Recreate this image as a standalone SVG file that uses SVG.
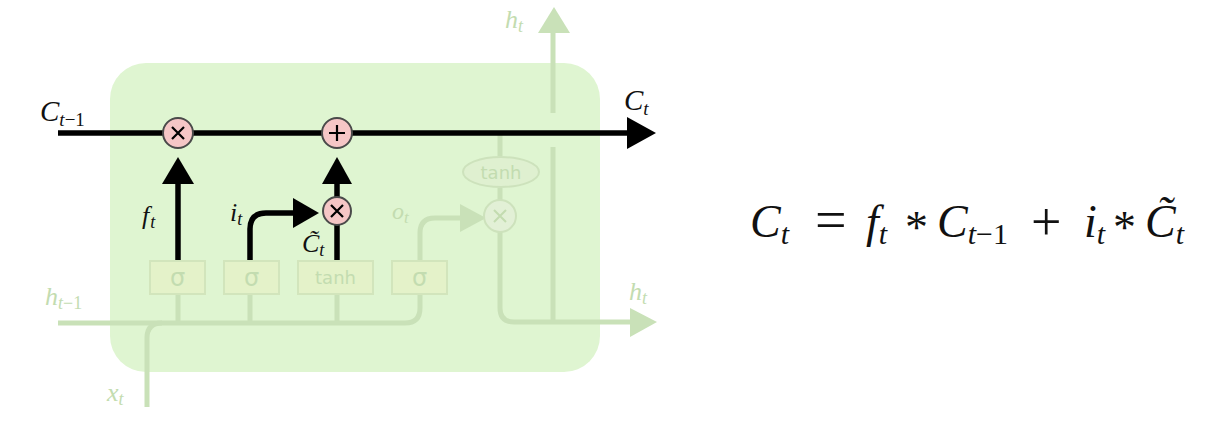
<svg xmlns="http://www.w3.org/2000/svg" width="1217" height="426" viewBox="0 0 1217 426">
<style>
.fl{fill:none;stroke:#c9e1b8;stroke-width:5;stroke-linecap:butt}
.fa{fill:#c9e1b8}
.fb{fill:#e4f2c9;stroke:#d2e5bc;stroke-width:2}
.ft{fill:#c3dcb0;font-family:"DejaVu Sans",sans-serif}
.fm{fill:#c3dcb0;font-family:"Liberation Serif",serif;font-style:italic}
.bl{fill:none;stroke:#000;stroke-width:5.5}
.ba{fill:#000}
.op{fill:#f5c6c6;stroke:#4a4a4a;stroke-width:2}
.ox{stroke:#000;stroke-width:2.2;fill:none}
.m{fill:#111;font-family:"Liberation Serif",serif;font-style:italic}
.n{fill:#111;font-family:"Liberation Serif",serif;font-style:normal}
</style>
<rect width="1217" height="426" fill="#fff"/>
<g id="cell"><rect x="110" y="63" width="490" height="309" rx="36" fill="#dff5d1"/></g>
<g id="connectors">
<path class="fl" d="M58,323 H405 Q420,323 420,308 V294"/>
<path class="fl" d="M147,407 V338 Q147,323 162,323"/>
<path class="fl" d="M178,294 V323 M250,294 V323 M337,294 V323"/>
<path class="fl" d="M420,260 V233 Q420,218 435,218 H462"/>
<polygon class="fa" points="460,204 486,218 460,232"/>
<path class="fl" d="M500,133 V156 M500,188 V200"/>
<path class="fl" d="M500,232 V308 Q500,322 514,322 H632"/>
<polygon class="fa" points="630,308 657,322 630,337"/>
<path class="fl" d="M553,322 V147 M553,113 V32"/>
<polygon class="fa" points="538,33 554,7 570,33"/>
<path class="bl" d="M58,133 H630"/>
<polygon class="ba" points="627,117 656,133 627,149"/>
<path class="bl" d="M178,260 V182"/>
<polygon class="ba" points="162,184 178,157 194,184"/>
<path class="bl" d="M337,197 V182"/>
<polygon class="ba" points="322,184 337,157 352,184"/>
<path class="bl" d="M250,260 V229 Q250,213 266,213 H295" stroke-width="6"/>
<polygon class="ba" points="293,198 319,213 293,228"/>
<path class="bl" d="M337,225 V260"/>
</g>
<g id="sigma_f"><rect class="fb" x="150" y="261" width="55" height="33"/><text class="ft" x="177.5" y="286" font-size="24" text-anchor="middle">σ</text></g>
<g id="sigma_i"><rect class="fb" x="224" y="261" width="55" height="33"/><text class="ft" x="251.5" y="286" font-size="24" text-anchor="middle">σ</text></g>
<g id="tanh_c"><rect class="fb" x="298" y="261" width="75" height="33"/><text class="ft" x="335.5" y="284" font-size="18" text-anchor="middle">tanh</text></g>
<g id="sigma_o"><rect class="fb" x="392" y="261" width="55" height="33"/><text class="ft" x="419.5" y="286" font-size="24" text-anchor="middle">σ</text></g>
<g id="tanh_h"><ellipse cx="501" cy="172" rx="38" ry="15" fill="#dff0d0" stroke="#cde2bc" stroke-width="2"/><text class="ft" x="501" y="179" font-size="18" text-anchor="middle">tanh</text></g>
<g id="mul_o"><circle cx="500" cy="216" r="16" fill="#e2f0d6" stroke="#cde2bc" stroke-width="2"/><path d="M494,210 L506,222 M506,210 L494,222" stroke="#c3dcb0" stroke-width="2"/></g>
<g id="mul_f"><circle class="op" cx="178" cy="133" r="15"/><path class="ox" d="M172,127 L184,139 M184,127 L172,139"/></g>
<g id="add"><circle class="op" cx="337" cy="133" r="15"/><path class="ox" d="M337,125 V141 M329,133 H345"/></g>
<g id="mul_i"><circle class="op" cx="337" cy="211" r="14"/><path class="ox" d="M331,205 L343,217 M343,205 L331,217"/></g>
<g id="labels">
<text class="m" x="40" y="121" font-size="29">C<tspan font-size="19" dy="5">t</tspan><tspan class="n" font-size="19">−1</tspan></text>
<text class="m" x="624" y="110" font-size="29">C<tspan font-size="19" dy="5">t</tspan></text>
<text class="m" x="142" y="224" font-size="26">f<tspan font-size="18" dx="1" dy="4">t</tspan></text>
<text class="m" x="230" y="221" font-size="26">i<tspan font-size="18" dy="4">t</tspan></text>
<text class="m" x="302" y="252" font-size="26">C&#771;<tspan font-size="18" dy="4">t</tspan></text>
<text class="fm" x="45" y="305" font-size="26">h<tspan font-size="18" dy="4">t</tspan><tspan font-style="normal" font-size="18">−1</tspan></text>
<text class="fm" x="107" y="401" font-size="26">x<tspan font-size="18" dy="4">t</tspan></text>
<text class="fm" x="392" y="219" font-size="24">o<tspan font-size="17" dy="4">t</tspan></text>
<text class="fm" x="505" y="28" font-size="26">h<tspan font-size="18" dy="4">t</tspan></text>
<text class="fm" x="629" y="300" font-size="26">h<tspan font-size="18" dy="4">t</tspan></text>
</g>
<g id="equation">
<text class="m" font-size="46" y="237"><tspan x="750">C</tspan><tspan font-size="30" dy="7">t</tspan><tspan class="n" font-size="56" x="815" dy="-5">=</tspan><tspan x="866" dy="-2">f</tspan><tspan font-size="30" dy="7">t</tspan><tspan class="n" x="905" dy="-1">*</tspan><tspan x="937" dy="-6">C</tspan><tspan font-size="30" dy="7">t</tspan><tspan class="n" font-size="30">−1</tspan><tspan class="n" font-size="54" x="1031" dy="-4">+</tspan><tspan x="1084" dy="-3">i</tspan><tspan font-size="30" dy="7">t</tspan><tspan class="n" x="1113" dy="-1">*</tspan><tspan x="1145" dy="-6">C&#771;</tspan><tspan font-size="30" dy="7">t</tspan></text>
</g>
</svg>
